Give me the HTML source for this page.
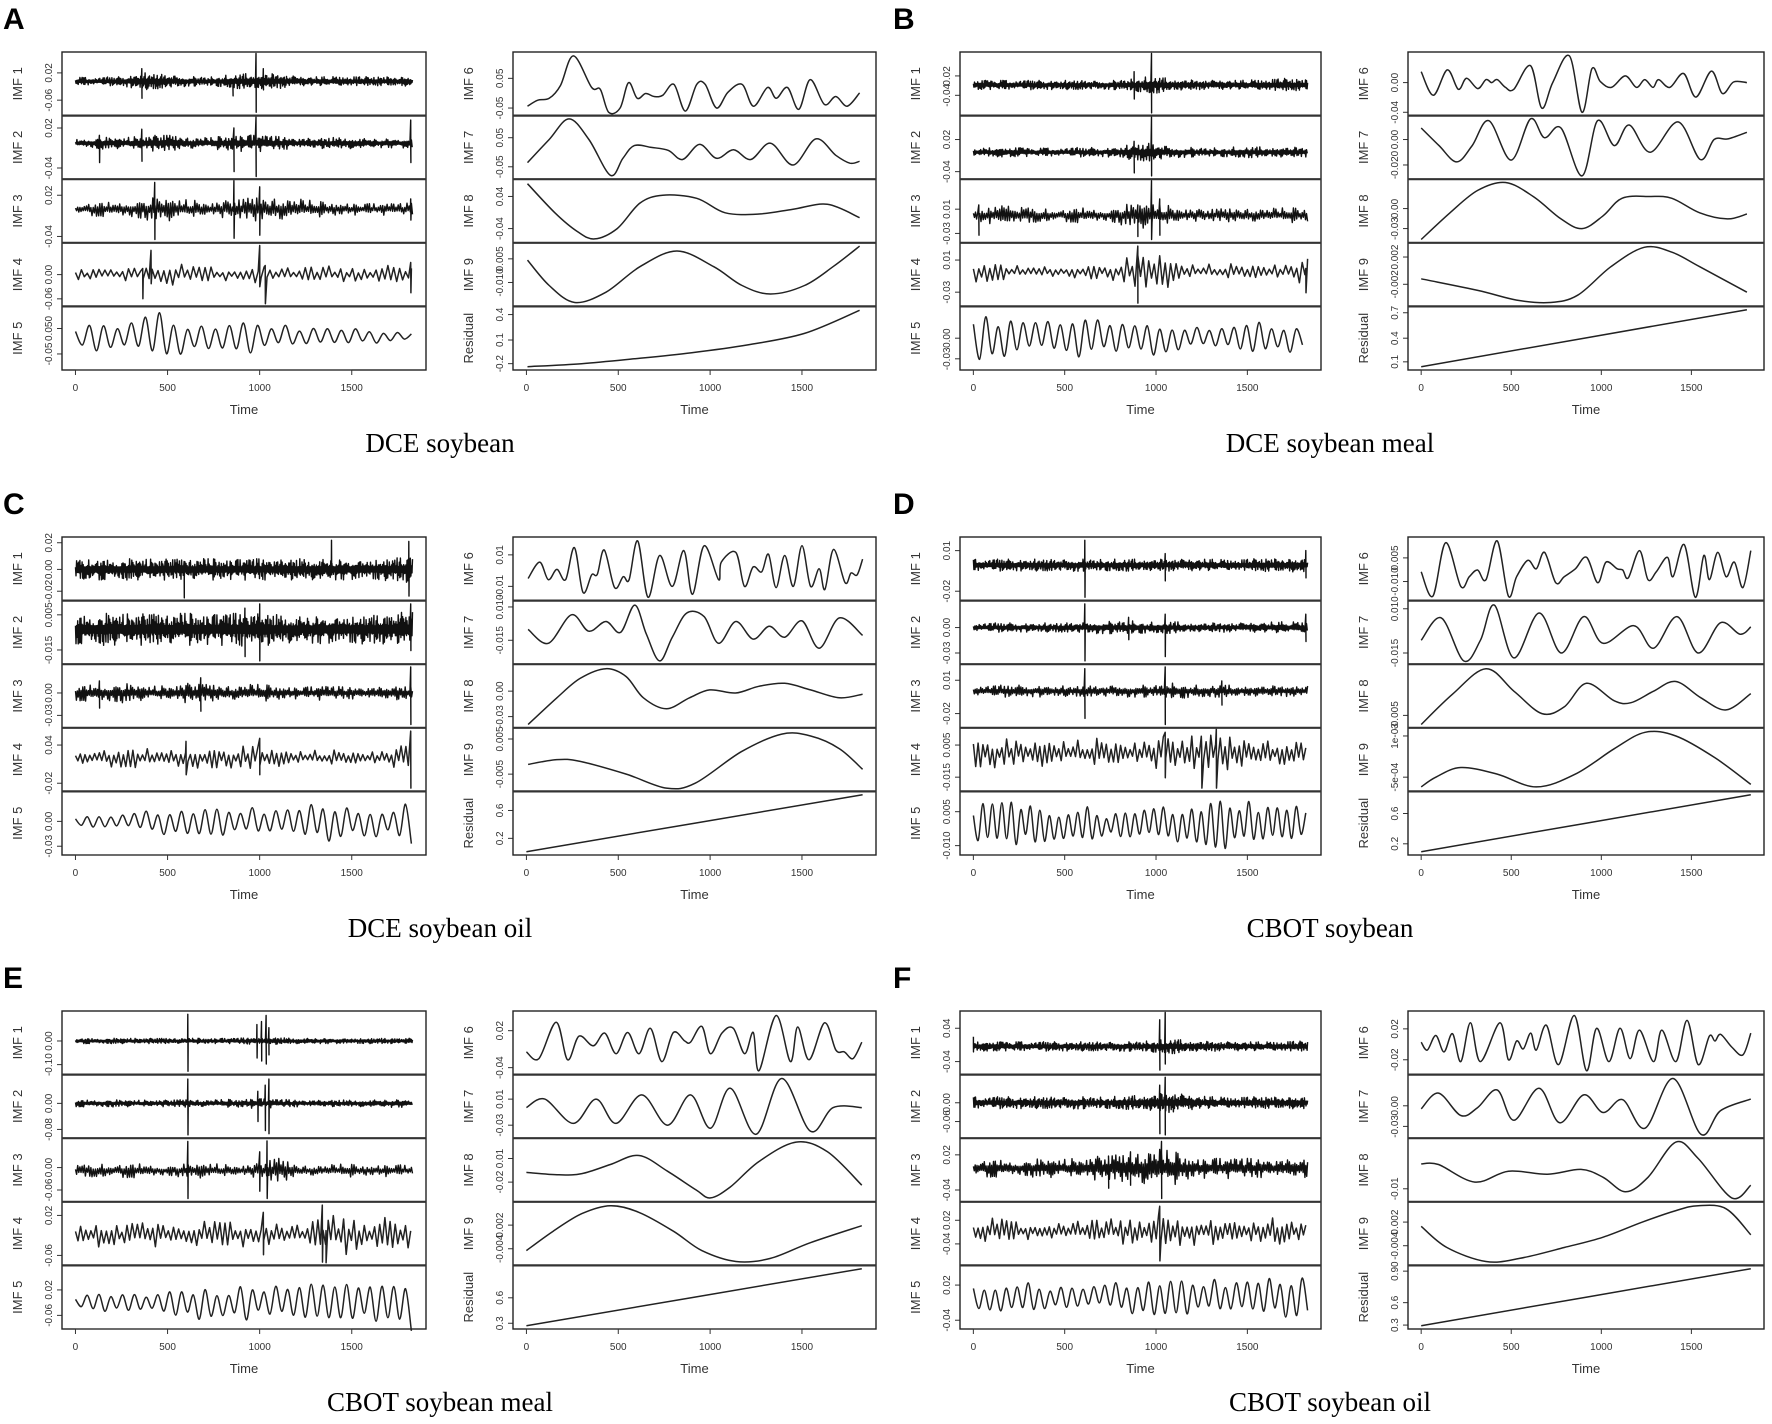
<!DOCTYPE html>
<html><head><meta charset="utf-8"><style>
html,body{margin:0;padding:0;background:#fff;}
svg{display:block;}
</style></head><body>
<svg id="fig" width="1772" height="1424" viewBox="0 0 1772 1424" xmlns="http://www.w3.org/2000/svg"></svg>
<script>
// ===== Data (time axis 0..1830, values in panel-height units 0..100) =====
// ---- Panel A: DCE soybean ----
const A_imf1_env=[6,6,7,13,11,7,7,10,13,11,7,7,8,7,7,7];
const A_imf1_spk=[[360,75,26],[855,55,30],[980,100,3],[1020,75,40]];
const A_imf2_env=[6,9,8,11,13,9,8,13,13,10,8,8,9,7,7,8];
const A_imf2_spk=[[130,70,25],[360,80,27],[860,82,10],[980,100,2],[1820,95,25]];
const A_imf3_env=[7,11,13,16,18,15,11,14,19,18,15,11,10,9,9,9];
const A_imf3_spk=[[430,97,3],[860,100,5],[1000,90,10],[1820,70,35]];
const A_imf4_env=[8,8,8,15,25,12,12,10,20,14,12,14,10,12,14,18];
const A_imf4_spk=[[365,60,10],[410,90,35],[1000,98,30],[1030,65,2],[1820,70,20]];
const A_imf5_env=[20,30,22,40,45,22,20,20,30,20,18,18,15,15,10,10];
const A_imf6=[[6,13],[62,23],[124,26],[185,47],[256,96],[355,44],[402,41],[448,3],[510,10],[556,52],[603,26],[649,34],[695,29],[742,31],[803,49],[865,5],[927,49],[973,49],[1035,10],[1097,36],[1174,49],[1236,13],[1313,44],[1360,26],[1421,44],[1483,8],[1545,57],[1622,16],[1684,29],[1746,13],[1814,35]];
const A_imf7=[[6,25],[124,63],[232,97],[340,63],[457,4],[525,32],[587,53],[680,50],[773,45],[850,30],[943,55],[1035,32],[1128,46],[1221,30],[1329,57],[1452,21],[1576,64],[1684,37],[1761,24],[1814,27]];
const A_imf8=[[6,95],[155,47],[278,16],[371,4],[494,21],[618,63],[742,76],[927,71],[1082,47],[1267,45],[1452,53],[1638,61],[1814,39]];
const A_imf9=[[6,74],[124,32],[263,4],[433,21],[618,63],[819,89],[1020,63],[1174,32],[1329,18],[1514,32],[1669,63],[1814,97]];
const A_res=[[6,3],[300,8],[587,16],[900,26],[1205,39],[1514,58],[1814,96]];
// ---- Panel B: DCE soybean meal ----
const B_imf1_env=[7,7,7,7,7,7,6,9,13,9,7,7,7,9,10,8];
const B_imf1_spk=[[880,70,25],[975,100,2]];
const B_imf2_env=[7,7,7,6,7,7,7,11,15,8,7,7,8,8,8,7];
const B_imf2_spk=[[880,60,8],[975,100,3]];
const B_imf3_env=[9,15,13,10,9,13,10,17,21,13,9,10,11,10,11,11];
const B_imf3_spk=[[30,60,10],[900,60,8],[975,100,3],[1020,70,10]];
const B_imf4_env=[16,14,10,12,10,14,10,22,40,18,12,12,12,15,12,20];
const B_imf4_spk=[[900,97,3],[1820,60,20]];
const B_imf5_env=[35,38,25,28,30,32,35,25,40,22,18,15,20,28,25,22];
const B_imf6=[[0,70],[68,31],[145,73],[206,41],[252,59],[314,42],[360,57],[391,52],[422,57],[468,44],[514,41],[607,80],[669,10],[730,52],[823,96],[893,3],[948,75],[994,54],[1056,44],[1133,63],[1195,44],[1241,57],[1287,44],[1318,57],[1380,44],[1457,67],[1525,28],[1611,71],[1672,34],[1734,53],[1808,52]];
const B_imf7=[[0,82],[99,53],[197,26],[283,53],[376,94],[499,29],[607,97],[684,66],[776,82],[893,3],[979,94],[1072,53],[1155,87],[1272,42],[1426,92],[1549,30],[1626,63],[1703,64],[1808,75]];
const B_imf8=[[0,3],[160,47],[314,84],[468,97],[622,74],[776,37],[893,21],[1010,42],[1115,71],[1269,74],[1392,71],[1546,47],[1700,37],[1808,45]];
const B_imf9=[[0,43],[314,24],[530,8],[715,4],[869,16],[1053,63],[1238,95],[1392,87],[1546,63],[1808,21]];
const B_res=[[0,3],[1808,97]];
// ---- Panel C: DCE soybean oil ----
const C_imf1_env=[14,16,16,16,16,16,16,16,16,16,16,16,16,16,17,22];
const C_imf1_spk=[[590,62,2],[1390,97,40],[1810,95,5]];
const C_imf2_env=[22,24,24,24,24,24,24,24,27,22,20,22,22,22,24,27];
const C_imf2_spk=[[920,90,10],[1000,97,3],[1820,97,20]];
const C_imf3_env=[11,15,15,11,11,15,13,11,13,11,9,11,9,9,10,11];
const C_imf3_spk=[[130,75,30],[680,80,25],[1820,98,3]];
const C_imf4_env=[14,14,14,16,16,22,18,15,20,13,12,12,12,12,12,25];
const C_imf4_spk=[[600,80,25],[1000,85,25],[1820,97,3]];
const C_imf5_env=[10,12,14,18,22,20,22,24,24,24,28,40,35,28,28,40];
const C_imf6=[[9,34],[72,61],[119,32],[166,49],[213,32],[261,85],[308,11],[355,40],[386,41],[424,81],[480,19],[527,37],[559,32],[606,96],[662,3],[725,72],[794,21],[857,80],[904,8],[967,88],[1046,32],[1061,61],[1140,77],[1187,21],[1234,53],[1281,45],[1318,74],[1359,19],[1406,72],[1453,21],[1500,88],[1547,21],[1594,50],[1625,16],[1672,82],[1735,27],[1767,43],[1800,40],[1830,66]];
const C_imf7=[[9,55],[119,32],[245,79],[339,52],[433,68],[512,50],[590,95],[653,47],[725,3],[794,42],[873,82],[967,76],[1046,32],[1140,68],[1234,39],[1322,60],[1406,42],[1500,69],[1594,24],[1704,74],[1830,45]];
const C_imf8=[[9,3],[166,47],[292,79],[433,95],[543,82],[637,47],[762,29],[888,47],[998,60],[1139,55],[1265,66],[1406,71],[1547,60],[1704,47],[1830,53]];
const C_imf9=[[9,42],[166,50],[292,47],[543,26],[762,3],[919,11],[1170,63],[1390,92],[1547,89],[1704,68],[1830,34]];
const C_res=[[0,3],[1830,97]];
// ---- Panel D: CBOT soybean ----
const D_imf1_env=[9,9,9,9,9,9,9,9,9,9,9,9,9,10,10,10];
const D_imf1_spk=[[610,97,3],[1050,75,30],[1820,80,35]];
const D_imf2_env=[7,7,7,7,7,9,9,11,8,9,7,7,7,8,9,9];
const D_imf2_spk=[[610,97,3],[850,75,38],[1050,80,10],[1820,80,35]];
const D_imf3_env=[9,9,9,9,8,8,9,9,9,13,9,9,9,8,8,8];
const D_imf3_spk=[[610,95,13],[1050,98,3],[1360,75,35]];
const D_imf4_env=[25,22,20,20,22,20,25,20,22,28,28,28,26,22,20,22];
const D_imf4_spk=[[1050,95,20],[1250,70,3],[1330,100,3]];
const D_imf5_env=[30,40,35,30,25,30,20,30,32,30,30,42,40,38,35,35];
const D_imf6=[[0,45],[65,5],[136,93],[220,21],[267,37],[313,48],[360,32],[422,96],[484,5],[530,37],[592,64],[639,50],[685,77],[747,27],[794,37],[856,50],[918,69],[980,27],[1026,61],[1088,50],[1119,48],[1150,35],[1212,80],[1259,32],[1305,45],[1367,69],[1398,37],[1460,90],[1522,3],[1569,72],[1600,32],[1646,77],[1693,37],[1739,61],[1786,19],[1830,80]];
const D_imf7=[[0,37],[112,74],[236,3],[329,37],[406,95],[515,8],[654,82],[778,16],[902,76],[1010,32],[1181,61],[1290,24],[1420,76],[1538,16],[1662,66],[1770,47],[1830,59]];
const D_imf8=[[0,3],[174,53],[360,95],[515,58],[670,21],[794,32],[918,71],[1072,42],[1165,39],[1290,58],[1414,74],[1553,47],[1693,27],[1830,54]];
const D_imf9=[[0,5],[81,21],[220,37],[422,26],[639,5],[856,26],[1072,68],[1243,95],[1414,89],[1631,53],[1830,9]];
const D_res=[[0,3],[1830,97]];
// ---- Panel E: CBOT soybean meal ----
const E_imf1_env=[4,4,4,4,4,4,4,4,5,5,4,4,4,4,4,4];
const E_imf1_spk=[[610,97,3],[985,80,25],[1010,85,20],[1035,95,15],[1050,75,30]];
const E_imf2_env=[5,6,5,5,5,6,5,6,8,6,5,5,5,5,6,6];
const E_imf2_spk=[[610,95,3],[990,75,25],[1030,85,10],[1050,95,5]];
const E_imf3_env=[8,10,10,12,8,10,12,8,10,20,8,8,10,8,10,8];
const E_imf3_spk=[[610,97,3],[1000,80,15],[1040,98,3]];
const E_imf4_env=[20,20,14,20,18,22,20,20,22,25,18,28,30,20,28,25];
const E_imf4_spk=[[1020,85,15],[1340,97,3],[1360,55,2]];
const E_imf5_env=[10,15,15,20,22,30,28,28,30,30,30,32,30,35,40,55];
const E_imf6=[[0,35],[68,24],[162,84],[224,22],[286,61],[364,45],[426,66],[488,32],[551,67],[613,32],[675,74],[737,19],[800,67],[862,53],[893,51],[955,77],[1002,32],[1064,66],[1126,74],[1188,32],[1235,67],[1266,4],[1359,95],[1437,19],[1477,76],[1539,22],[1623,83],[1685,38],[1731,35],[1778,24],[1826,51]];
const E_imf7=[[0,48],[100,62],[255,22],[379,62],[488,22],[628,69],[768,19],[893,69],[1002,14],[1110,80],[1250,4],[1390,96],[1546,9],[1670,48],[1826,48]];
const E_imf8=[[0,46],[177,42],[302,44],[457,59],[613,74],[768,48],[924,17],[1002,4],[1110,22],[1266,64],[1468,96],[1639,80],[1826,25]];
const E_imf9=[[0,22],[146,54],[302,83],[457,96],[613,85],[800,54],[955,22],[1141,4],[1328,9],[1546,35],[1826,63]];
const E_res=[[0,3],[1826,97]];
// ---- Panel F: CBOT soybean oil ----
const F_imf1_env=[7,7,7,7,7,7,7,7,9,11,8,7,7,7,8,8];
const F_imf1_spk=[[0,60,35],[1020,88,5],[1050,100,15]];
const F_imf2_env=[9,9,9,9,9,9,9,10,13,15,10,9,9,9,9,9];
const F_imf2_spk=[[1020,85,5],[1050,98,3]];
const F_imf3_env=[12,14,12,14,14,16,20,22,30,25,16,16,15,14,14,14];
const F_imf3_spk=[[740,65,20],[860,80,25],[1030,97,3]];
const F_imf4_env=[20,20,14,15,18,20,18,20,22,30,22,20,20,20,20,20];
const F_imf4_spk=[[1020,95,5]];
const F_imf5_env=[18,25,24,22,22,22,24,28,30,28,30,30,32,35,40,50];
const F_imf6=[[0,51],[34,38],[81,62],[127,35],[174,65],[220,19],[273,83],[329,19],[437,83],[484,22],[530,53],[567,40],[608,66],[639,38],[695,79],[763,14],[850,95],[918,4],[974,74],[1042,19],[1104,74],[1160,24],[1212,71],[1290,19],[1336,71],[1414,19],[1476,87],[1538,14],[1600,61],[1631,53],[1662,64],[1724,43],[1786,30],[1830,66]];
const F_imf7=[[0,46],[96,72],[220,35],[313,48],[422,77],[515,27],[654,80],[769,23],[902,69],[1010,40],[1119,61],[1243,14],[1398,96],[1553,4],[1662,43],[1830,62]];
const F_imf8=[[0,60],[96,59],[298,30],[484,48],[701,43],[887,51],[1010,38],[1135,14],[1259,38],[1414,96],[1538,69],[1724,4],[1830,25]];
const F_imf9=[[0,62],[143,27],[360,4],[546,9],[794,27],[1010,44],[1228,69],[1414,88],[1538,96],[1693,91],[1830,48]];
const F_res=[[0,3],[1830,97]];

const xTicks=[0,500,1000,1500];

// ===== Panel configs =====
function nz(c,env,spk,hp){return {type:'noise',c:c,env:env,spk:spk||[],hp:hp};}
function sm(k){return {type:'smooth',k:k};}
const panels=[
 {id:'A',title:'DCE soybean',gx:0,gy:52,left:[
  ['IMF 1',nz(54,A_imf1_env,A_imf1_spk,3),[[68,'0.02'],[23,'-0.06']]],
  ['IMF 2',nz(57,A_imf2_env,A_imf2_spk,4),[[82,'0.02'],[16,'-0.04']]],
  ['IMF 3',nz(53,A_imf3_env,A_imf3_spk,6),[[76,'0.02'],[8,'-0.04']]],
  ['IMF 4',nz(50,A_imf4_env,A_imf4_spk,16),[[50,'0.00'],[10,'-0.06']]],
  ['IMF 5',nz(53,A_imf5_env,[],38),[[66,'0.050'],[24,'-0.05']]]],
  right:[
  ['IMF 6',sm(A_imf6),[[59,'0.05'],[10,'-0.05']]],
  ['IMF 7',sm(A_imf7),[[66,'0.05'],[18,'-0.05']]],
  ['IMF 8',sm(A_imf8),[[74,'0.04'],[21,'-0.04']]],
  ['IMF 9',sm(A_imf9),[[76,'0.005'],[37,'-0.010']]],
  ['Residual',sm(A_res),[[89,'0.4'],[47,'0.1'],[8,'-0.2']]]]},
 {id:'B',title:'DCE soybean meal',gx:1,gy:52,left:[
  ['IMF 1',nz(48,B_imf1_env,B_imf1_spk,3),[[63,'0.02'],[31,'-0.04']]],
  ['IMF 2',nz(42,B_imf2_env,B_imf2_spk,4),[[63,'0.02'],[10,'-0.04']]],
  ['IMF 3',nz(43,B_imf3_env,B_imf3_spk,6),[[53,'0.01'],[13,'-0.03']]],
  ['IMF 4',nz(55,B_imf4_env,B_imf4_spk,15),[[74,'0.01'],[21,'-0.03']]],
  ['IMF 5',nz(50,B_imf5_env,[],34),[[50,'0.00'],[16,'-0.03']]]],
  right:[
  ['IMF 6',sm(B_imf6),[[52,'0.00'],[3,'-0.04']]],
  ['IMF 7',sm(B_imf7),[[63,'0.00'],[21,'-0.020']]],
  ['IMF 8',sm(B_imf8),[[54,'0.00'],[21,'-0.03']]],
  ['IMF 9',sm(B_imf9),[[79,'0.002'],[34,'-0.002']]],
  ['Residual',sm(B_res),[[92,'0.7'],[50,'0.4'],[11,'0.1']]]]},
 {id:'C',title:'DCE soybean oil',gx:0,gy:537,left:[
  ['IMF 1',nz(49,C_imf1_env,C_imf1_spk,3),[[93,'0.02'],[49,'0.00'],[13,'-0.02']]],
  ['IMF 2',nz(55,C_imf2_env,C_imf2_spk,3),[[79,'0.005'],[21,'-0.015']]],
  ['IMF 3',nz(55,C_imf3_env,C_imf3_spk,5),[[55,'0.00'],[18,'-0.03']]],
  ['IMF 4',nz(53,C_imf4_env,C_imf4_spk,13),[[74,'0.04'],[11,'-0.02']]],
  ['IMF 5',nz(53,C_imf5_env,[],32),[[53,'0.00'],[12,'-0.03']]]],
  right:[
  ['IMF 6',sm(C_imf6),[[73,'0.01'],[21,'-0.01']]],
  ['IMF 7',sm(C_imf7),[[92,'0.010'],[37,'-0.015']]],
  ['IMF 8',sm(C_imf8),[[58,'0.00'],[16,'-0.03']]],
  ['IMF 9',sm(C_imf9),[[84,'0.005'],[26,'-0.005']]],
  ['Residual',sm(C_res),[[71,'0.6'],[25,'0.2']]]]},
 {id:'D',title:'CBOT soybean',gx:1,gy:537,left:[
  ['IMF 1',nz(56,D_imf1_env,D_imf1_spk,3),[[80,'0.01'],[13,'-0.02']]],
  ['IMF 2',nz(58,D_imf2_env,D_imf2_spk,4),[[58,'0.00'],[16,'-0.03']]],
  ['IMF 3',nz(58,D_imf3_env,D_imf3_spk,5),[[76,'0.01'],[21,'-0.02']]],
  ['IMF 4',nz(61,D_imf4_env,D_imf4_spk,13),[[74,'0.005'],[21,'-0.015']]],
  ['IMF 5',nz(49,D_imf5_env,[],26),[[69,'0.005'],[13,'-0.010']]]],
  right:[
  ['IMF 6',sm(D_imf6),[[68,'0.005'],[29,'-0.010']]],
  ['IMF 7',sm(D_imf7),[[89,'0.010'],[16,'-0.015']]],
  ['IMF 8',sm(D_imf8),[[18,'-0.005']]],
  ['IMF 9',sm(D_imf9),[[89,'1e-03'],[21,'-5e-04']]],
  ['Residual',sm(D_res),[[66,'0.6'],[16,'0.2']]]]},
 {id:'E',title:'CBOT soybean meal',gx:0,gy:1011,left:[
  ['IMF 1',nz(53,E_imf1_env,E_imf1_spk,3),[[53,'0.00'],[14,'-0.10']]],
  ['IMF 2',nz(55,E_imf2_env,E_imf2_spk,4),[[55,'0.00'],[12,'-0.08']]],
  ['IMF 3',nz(49,E_imf3_env,E_imf3_spk,6),[[54,'0.00'],[17,'-0.06']]],
  ['IMF 4',nz(48,E_imf4_env,E_imf4_spk,14),[[80,'0.02'],[14,'-0.06']]],
  ['IMF 5',nz(41,E_imf5_env,[],32),[[62,'0.02'],[20,'-0.06']]]],
  right:[
  ['IMF 6',sm(E_imf6),[[70,'0.02'],[9,'-0.04']]],
  ['IMF 7',sm(E_imf7),[[62,'0.01'],[19,'-0.03']]],
  ['IMF 8',sm(E_imf8),[[69,'0.01'],[30,'-0.02']]],
  ['IMF 9',sm(E_imf9),[[64,'0.002'],[25,'-0.004']]],
  ['Residual',sm(E_res),[[49,'0.6'],[7,'0.3']]]]},
 {id:'F',title:'CBOT soybean oil',gx:1,gy:1011,left:[
  ['IMF 1',nz(44,F_imf1_env,F_imf1_spk,3),[[74,'0.04'],[19,'-0.04']]],
  ['IMF 2',nz(56,F_imf2_env,F_imf2_spk,3),[[56,'0.00'],[25,'-0.06']]],
  ['IMF 3',nz(53,F_imf3_env,F_imf3_spk,5),[[75,'0.02'],[17,'-0.04']]],
  ['IMF 4',nz(54,F_imf4_env,F_imf4_spk,13),[[72,'0.02'],[33,'-0.04']]],
  ['IMF 5',nz(51,F_imf5_env,[],30),[[70,'0.02'],[12,'-0.04']]]],
  right:[
  ['IMF 6',sm(F_imf6),[[73,'0.02'],[22,'-0.02']]],
  ['IMF 7',sm(F_imf7),[[51,'0.00'],[17,'-0.03']]],
  ['IMF 8',sm(F_imf8),[[19,'-0.01']]],
  ['IMF 9',sm(F_imf9),[[69,'0.002'],[30,'-0.004']]],
  ['Residual',sm(F_res),[[93,'0.90'],[41,'0.6'],[4,'0.3']]]]}
];

// ===== Layout =====
const COLS=[{l1:62,r1:426,l2:513,r2:876,letterX:3,capX:440},{l1:960,r1:1321,l2:1408,r2:1764,letterX:893,capX:1330}];
const BOX_H=318, TMAX=1830;
const NS='http://www.w3.org/2000/svg';
const svg=document.getElementById('fig');
function mk(tag,attrs,parent){const e=document.createElementNS(NS,tag);for(const k in attrs)e.setAttribute(k,attrs[k]);(parent||svg).appendChild(e);return e;}
function xScale(t,L,W){const p=W*0.037;return L+p+t/TMAX*(W-2*p);}
function yScale(v,top,h){return top+1.5+(100-v)/100*(h-3);}
function envAt(env,t){const f=t/TMAX*(env.length-1);const i=Math.min(env.length-2,Math.floor(f));const r=f-i;return env[i]*(1-r)+env[i+1]*r;}
function texture(k){const s=Math.sin(k*78.233+1.7)*43758.5453;return s-Math.floor(s);}
function crPath(pts){
  let d='M'+pts[0][0].toFixed(1)+','+pts[0][1].toFixed(1);
  for(let i=0;i<pts.length-1;i++){
    const p0=pts[Math.max(0,i-1)],p1=pts[i],p2=pts[i+1],p3=pts[Math.min(pts.length-1,i+2)];
    const c1x=p1[0]+(p2[0]-p0[0])/6,c1y=p1[1]+(p2[1]-p0[1])/6;
    const c2x=p2[0]-(p3[0]-p1[0])/6,c2y=p2[1]-(p3[1]-p1[1])/6;
    d+='C'+c1x.toFixed(1)+','+c1y.toFixed(1)+' '+c2x.toFixed(1)+','+c2y.toFixed(1)+' '+p2[0].toFixed(1)+','+p2[1].toFixed(1);
  }
  return d;
}
function noisePoints(s){
  const pts=[];let si=0,k=0;const sp=s.spk.slice().sort((a,b)=>a[0]-b[0]);
  const smooth=s.hp>=20;
  for(let t=0;t<=TMAX;t+=s.hp){
    while(si<sp.length&&sp[si][0]<=t){pts.push([sp[si][0],sp[si][1]]);pts.push([sp[si][0]+1,sp[si][2]]);si++;}
    const e=envAt(s.env,t);
    const frac=texture(k+s.c*7);
    const m=smooth?(0.4+0.6*frac):(0.25+0.85*frac*frac);
    const sg=(k%2===0)?1:-1;
    pts.push([t,s.c+sg*e*m]);k++;
  }
  return pts;
}
function drawSubplot(spec,L,W,top,h,isBottom,g){
  const [label,s,ticks]=spec;
  const sub=mk('g',{},g);
  
  
  let pts;
  if(s.type==='noise'){pts=noisePoints(s);}else{pts=s.k;}
  const px=pts.map(p=>[xScale(p[0],L,W),yScale(p[1],top,h)]);
  let d;
  if(s.type==='smooth'||s.hp>=20){d=crPath(px);}else{d='M'+px.map(p=>p[0].toFixed(1)+','+p[1].toFixed(1)).join('L');}
  const noisy=s.type==='noise'&&s.hp<10;
  const path=mk('path',{d:d,fill:'none',stroke:noisy?'#111':'#222','stroke-width':noisy?1.4:1.5,'stroke-linejoin':'round'},sub);
  
  
  ticks.forEach(tk=>{
    const y=yScale(tk[0],top,h);
    const tl=mk('line',{x1:L-5,x2:L,y1:y,y2:y,stroke:'#333','stroke-width':1},sub);
    
    
    const tx=mk('text',{x:L-10,y:y,transform:'rotate(-90 '+(L-10)+' '+y+')','text-anchor':'middle','font-size':10,'font-family':'Liberation Sans, sans-serif',fill:'#333'},sub);
    tx.textContent=tk[1];
    
    
  });
  const lx=L-40,ly=top+h/2;
  const lb=mk('text',{x:lx,y:ly,transform:'rotate(-90 '+lx+' '+ly+')','text-anchor':'middle','font-size':13,'font-family':'Liberation Sans, sans-serif',fill:'#333'},sub);
  lb.textContent=label;
  
  
}
function drawColumn(list,L,R,top,g){
  const W=R-L,h=BOX_H/list.length;
  list.forEach((spec,i)=>drawSubplot(spec,L,W,top+i*h,h,i===list.length-1,g));
  const box=mk('rect',{x:L,y:top,width:W,height:BOX_H,fill:'none',stroke:'#222','stroke-width':1.4},g);
  
  
  for(let i=1;i<list.length;i++){
    const sl=mk('line',{x1:L,x2:R,y1:top+i*h,y2:top+i*h,stroke:'#333','stroke-width':2.2},g);
    
    
  }
  const bot=top+BOX_H;
  xTicks.forEach(t=>{
    const x=xScale(t,L,W);
    const tl=mk('line',{x1:x,x2:x,y1:bot,y2:bot+5,stroke:'#333','stroke-width':1},g);
    
    
    const tx=mk('text',{x:x,y:bot+21,'text-anchor':'middle','font-size':10,'font-family':'Liberation Sans, sans-serif',fill:'#333'},g);
    tx.textContent=String(t);
    
    
  });
  const axl=mk('line',{x1:xScale(0,L,W),x2:xScale(1500,L,W),y1:bot,y2:bot,stroke:'#333','stroke-width':1},g);
  
  
  const tt=mk('text',{x:(L+R)/2,y:bot+44,'text-anchor':'middle','font-size':13,'font-family':'Liberation Sans, sans-serif',fill:'#333'},g);
  tt.textContent='Time';
  
  
}
panels.forEach(p=>{
  const c=COLS[p.gx];
  const g=mk('g',{});
  
  
  const letterY=p.gy-23;
  const lt=mk('text',{x:c.letterX,y:letterY,'font-size':30,'font-weight':'bold','font-family':'Liberation Sans, sans-serif',fill:'#000'},g);
  lt.textContent=p.id;
  
  
  drawColumn(p.left,c.l1,c.r1,p.gy,g);
  drawColumn(p.right,c.l2,c.r2,p.gy,g);
  const cap=mk('text',{x:c.capX,y:p.gy+BOX_H+82,'text-anchor':'middle','font-size':27,'font-family':'Liberation Serif, serif',fill:'#000'},g);
  cap.textContent=p.title;
  
  
});
</script>
</body></html>
